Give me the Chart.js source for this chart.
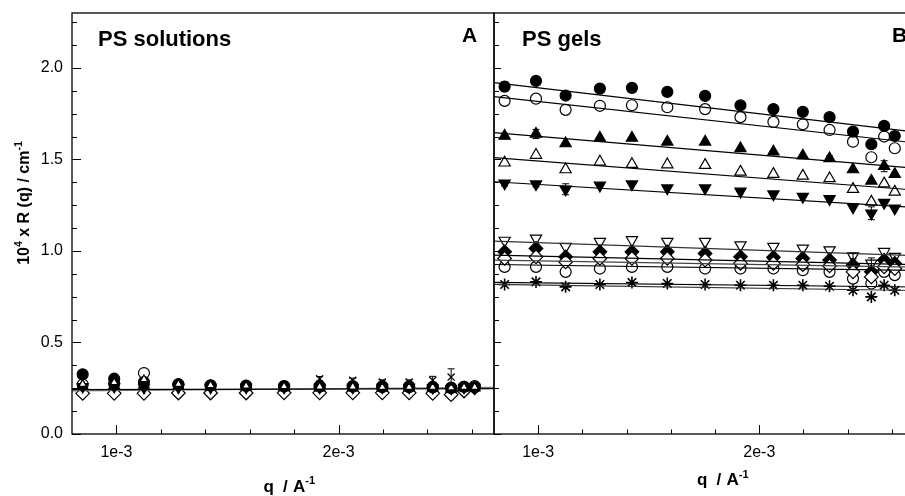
<!DOCTYPE html>
<html>
<head>
<meta charset="utf-8">
<script src="https://cdn.jsdelivr.net/npm/chart.js@4.4.1/dist/chart.umd.min.js"></script>
<style>
html,body{margin:0;padding:0;background:#fff;overflow:hidden;width:905px;height:496px;}
canvas{position:absolute;left:0;top:0;}
</style>
</head>
<body>
<canvas id="cA" width="905" height="496"></canvas>
<canvas id="cB" width="925" height="496"></canvas>
<script>
// ---------- data ----------
const q = [0.000848, 0.000990, 0.001124, 0.001279, 0.001424, 0.001584, 0.001755, 0.001915, 0.002064, 0.002197, 0.002318, 0.002424, 0.002507, 0.002565, 0.002613];
const qRange = [0.0008, 0.0027];
const yRange = [0, 2.3];
const xTickValues = [0.001, 0.002];
const xTickLabels = ['1e-3', '2e-3'];
const xMinorValues = [0.0012, 0.0014, 0.0016, 0.0018, 0.0022, 0.0024, 0.0026];
const yTickValues = [0, 0.5, 1.0, 1.5, 2.0];
const yTickLabels = ['0.0', '0.5', '1.0', '1.5', '2.0'];
const yMinorValues = [0.125, 0.25, 0.375, 0.625, 0.75, 0.875, 1.125, 1.25, 1.375, 1.625, 1.75, 1.875, 2.125, 2.25];

// Panel A: PS solutions
const solFilledCircle = [0.326, 0.302, 0.284, 0.272, 0.266, 0.264, 0.262, 0.262, 0.262, 0.260, 0.260, 0.258, 0.254, 0.258, 0.256];
const solOpenCircle   = [0.270, 0.275, 0.333, 0.270, 0.265, 0.262, 0.260, 0.258, 0.258, 0.256, 0.256, 0.254, 0.250, 0.258, 0.262];
const solFilledUp     = [0.262, 0.265, 0.268, 0.262, 0.258, 0.258, 0.254, 0.252, 0.252, 0.252, 0.252, 0.252, 0.246, 0.252, 0.252];
const solOpenUp       = [0.272, 0.282, 0.298, 0.272, 0.266, 0.263, 0.260, 0.258, 0.258, 0.256, 0.256, 0.256, 0.253, 0.256, 0.256];
const solFilledDown   = [0.258, 0.258, 0.252, 0.254, 0.254, 0.254, 0.254, 0.254, 0.254, 0.254, 0.254, 0.252, 0.248, 0.254, 0.254];
const solOpenDiamond  = [0.222, 0.222, 0.222, 0.224, 0.224, 0.224, 0.225, 0.225, 0.225, 0.225, 0.225, 0.222, 0.215, 0.235, 0.252];
const solCross        = [null, null, null, null, null, null, null, 0.302, 0.293, 0.284, 0.284, 0.293, 0.311, null, null];
const solCrossErr     = [0, 0, 0, 0, 0, 0, 0, 0.012, 0.012, 0.012, 0.012, 0.022, 0.045, 0, 0];
const solFitBlack = [0.242, 0.248];
const solFitGray  = [0.236, 0.255];

// Panel B: PS gels
const gelFilledCircle  = [1.898, 1.929, 1.849, 1.887, 1.891, 1.869, 1.847, 1.796, 1.775, 1.760, 1.731, 1.652, 1.583, 1.683, 1.628];
const gelOpenCircle    = [1.820, 1.832, 1.771, 1.793, 1.796, 1.785, 1.775, 1.731, 1.705, 1.692, 1.661, 1.597, 1.512, 1.625, 1.561];
const gelFilledUp      = [1.628, 1.639, 1.587, 1.617, 1.617, 1.596, 1.596, 1.560, 1.542, 1.520, 1.505, 1.445, 1.383, 1.463, 1.420];
const gelOpenUp        = [1.482, 1.524, 1.445, 1.487, 1.474, 1.472, 1.469, 1.432, 1.420, 1.410, 1.396, 1.338, 1.268, 1.368, 1.323];
const gelFilledDown    = [1.370, 1.365, 1.337, 1.358, 1.365, 1.343, 1.343, 1.325, 1.310, 1.297, 1.284, 1.239, 1.206, 1.264, 1.233];
const gelOpenDown      = [1.057, 1.069, 1.024, 1.051, 1.060, 1.051, 1.051, 1.032, 1.024, 1.014, 1.005, 0.972, 0.932, 0.996, 0.969];
const gelFilledDiamond = [0.995, 1.014, 0.968, 0.995, 0.995, 0.995, 0.986, 0.968, 0.965, 0.959, 0.950, 0.922, 0.886, 0.950, 0.932];
const gelOpenDiamond   = [0.959, 0.968, 0.940, 0.959, 0.959, 0.959, 0.950, 0.932, 0.932, 0.925, 0.918, 0.886, 0.858, 0.913, 0.904];
const gelOpenHex       = [0.913, 0.913, 0.886, 0.904, 0.913, 0.913, 0.904, 0.904, 0.904, 0.895, 0.886, 0.849, 0.822, 0.886, 0.868];
const gelStar          = [0.817, 0.831, 0.804, 0.817, 0.828, 0.822, 0.817, 0.813, 0.813, 0.813, 0.807, 0.785, 0.749, 0.813, 0.785];
const gelFilledCircleErr = [0.025, 0, 0, 0, 0, 0, 0, 0, 0, 0, 0, 0, 0, 0, 0];
const gelFilledUpErr     = [0.015, 0.025, 0, 0, 0, 0, 0, 0, 0, 0, 0.015, 0, 0, 0.03, 0];
const gelFilledDownErr   = [0.015, 0.015, 0.03, 0, 0, 0, 0, 0, 0, 0, 0, 0, 0.035, 0, 0];
const gelOpenDownErr     = [0, 0, 0, 0, 0, 0, 0, 0, 0, 0, 0, 0.015, 0.03, 0, 0];
// fitted lines, values at q = 0.8e-3 and 2.7e-3
const gelFits = [
  [1.920, 1.651], [1.843, 1.591], [1.646, 1.453], [1.510, 1.333], [1.378, 1.238],
  [1.054, 0.975], [0.977, 0.925], [0.950, 0.912], [0.926, 0.894], [0.828, 0.803], [0.817, 0.784]
];
const gelFitColors = ['#000', '#000', '#000', '#000', '#000', '#333', '#000', '#444', '#000', '#000', '#333'];

// ---------- helpers ----------
Chart.defaults.font.family = "'Liberation Sans', Arial, sans-serif";
Chart.defaults.color = '#000';

function pts(vals) {
  const out = [];
  vals.forEach((v, i) => { if (v !== null) out.push({x: q[i], y: v}); });
  return out;
}
function mk(vals, style, filled, opt) {
  opt = opt || {};
  return {
    data: pts(vals),
    showLine: false,
    pointStyle: style,
    pointRotation: opt.rot || 0,
    pointRadius: opt.r || 5.5,
    pointBorderWidth: opt.bw || 1.2,
    pointBorderColor: '#000',
    pointBackgroundColor: filled ? '#000' : '#fff',
    errs: opt.errs || null,
    errSrc: vals
  };
}
function fit(ends, color) {
  return {
    data: [{x: qRange[0], y: ends[0]}, {x: qRange[1], y: ends[1]}],
    showLine: true, pointRadius: 0, borderColor: color || '#000', borderWidth: 1.2, fill: false
  };
}

const errPlugin = {
  id: 'errbars',
  afterDatasetsDraw(chart) {
    const ctx = chart.ctx, xs = chart.scales.x, ys = chart.scales.y;
    ctx.save();
    ctx.strokeStyle = '#000'; ctx.lineWidth = 1;
    chart.data.datasets.forEach(ds => {
      if (!ds.errs) return;
      ds.errSrc.forEach((v, i) => {
        const e = ds.errs[i];
        if (v === null || !e) return;
        const px = xs.getPixelForValue(q[i]);
        const y1 = ys.getPixelForValue(v + e), y2 = ys.getPixelForValue(v - e);
        ctx.beginPath();
        ctx.moveTo(px, y1); ctx.lineTo(px, y2);
        ctx.moveTo(px - 3.5, y1); ctx.lineTo(px + 3.5, y1);
        ctx.moveTo(px - 3.5, y2); ctx.lineTo(px + 3.5, y2);
        ctx.stroke();
      });
    });
    ctx.restore();
  }
};

function drawSupText(ctx, parts, x, y) {
  let cx = x;
  parts.forEach(p => {
    ctx.font = 'bold ' + p[1] + "px 'Liberation Sans', Arial, sans-serif";
    ctx.fillText(p[0], cx, y - p[2]);
    cx += ctx.measureText(p[0]).width;
  });
  return cx - x;
}

const framePlugin = {
  id: 'frame',
  afterDraw(chart, args, o) {
    const ctx = chart.ctx, a = chart.chartArea, xs = chart.scales.x, ys = chart.scales.y;
    ctx.save();
    ctx.strokeStyle = '#000';
    ctx.lineWidth = 1;
    ctx.beginPath();
    xTickValues.forEach(v => { const p = Math.round(xs.getPixelForValue(v)) + 0.5; ctx.moveTo(p, a.bottom); ctx.lineTo(p, a.bottom - 9); });
    xMinorValues.forEach(v => { const p = Math.round(xs.getPixelForValue(v)) + 0.5; ctx.moveTo(p, a.bottom); ctx.lineTo(p, a.bottom - 4.5); });
    yTickValues.forEach(v => { const p = Math.round(ys.getPixelForValue(v)) + 0.5; ctx.moveTo(a.left, p); ctx.lineTo(a.left + o.yMajor, p); });
    yMinorValues.forEach(v => { const p = Math.round(ys.getPixelForValue(v)) + 0.5; ctx.moveTo(a.left, p); ctx.lineTo(a.left + o.yMinor, p); });
    ctx.stroke();
    ctx.lineWidth = 1.3;
    ctx.strokeRect(a.left, a.top, a.right - a.left, a.bottom - a.top);
    ctx.fillStyle = '#000';
    ctx.textBaseline = 'alphabetic';
    ctx.textAlign = 'left';
    ctx.font = "bold 22px 'Liberation Sans', Arial, sans-serif";
    ctx.fillText(o.title, o.titleX, 46);
    ctx.font = "bold 21px 'Liberation Sans', Arial, sans-serif";
    ctx.fillText(o.letter, o.letterX, 41.5);
    drawSupText(ctx, [['q', 17, 0]], o.xtX, o.xtY);
    drawSupText(ctx, [['/', 17, 0]], o.xtX + 19.5, o.xtY);
    drawSupText(ctx, [['A', 17, 0], ['-1', 11, 7.5]], o.xtX + 29.5, o.xtY);
    if (o.ytitle) {
      ctx.save();
      ctx.translate(28.5, 203);
      ctx.rotate(-Math.PI / 2);
      const parts = [['10', 16, 0], ['4', 10.5, 7], [' x R (q) / cm', 16, 0], ['-1', 10.5, 7]];
      let w = 0;
      parts.forEach(p => { ctx.font = 'bold ' + p[1] + "px 'Liberation Sans', Arial, sans-serif"; w += ctx.measureText(p[0]).width; });
      drawSupText(ctx, parts, -w / 2, 0);
      ctx.restore();
    }
    ctx.restore();
  }
};

function noPad(s) { s.paddingTop = 0; s.paddingBottom = 0; s.paddingLeft = 0; s.paddingRight = 0; }

function scales(showY, yWidth) {
  return {
    x: {
      type: 'linear', position: 'bottom', min: qRange[0], max: qRange[1],
      afterFit: s => { s.height = 62; noPad(s); },
      afterBuildTicks: s => { s.ticks = xTickValues.map(v => ({value: v})); },
      ticks: {
        autoSkip: false, maxRotation: 0, padding: 9,
        font: {size: 16}, color: '#000',
        callback: (v) => { const i = xTickValues.indexOf(v); return i >= 0 ? xTickLabels[i] : ''; }
      },
      grid: {display: false, drawTicks: false}, border: {display: false}
    },
    y: {
      type: 'linear', position: 'left', min: yRange[0], max: yRange[1],
      afterFit: s => { s.width = yWidth; noPad(s); },
      afterBuildTicks: s => { s.ticks = yTickValues.map(v => ({value: v})); },
      ticks: {
        display: showY, autoSkip: false, padding: 9,
        font: {size: 16}, color: '#000',
        callback: (v) => { const i = yTickValues.indexOf(v); return i >= 0 ? yTickLabels[i] : ''; }
      },
      grid: {display: false, drawTicks: false}, border: {display: false}
    }
  };
}

// ---------- Panel A ----------
new Chart(document.getElementById('cA'), {
  type: 'scatter',
  data: {
    datasets: [
      mk(solCross, 'crossRot', true, {r: 5, bw: 1.3, errs: solCrossErr}),
      mk(solOpenUp, 'triangle', false, {r: 4.5}),
      mk(solFilledDown, 'triangle', true, {rot: 180, r: 6.2}),
      mk(solFilledUp, 'triangle', true, {r: 6.2}),
      mk(solFilledCircle, 'circle', true, {r: 5.5}),
      mk(solOpenCircle, 'circle', false, {r: 5.5}),
      fit(solFitBlack, '#000'),
      fit(solFitGray, '#777'),
      mk(solOpenDiamond, 'rectRot', false, {r: 6.8})
    ]
  },
  options: {
    responsive: false, animation: false, devicePixelRatio: 1,
    layout: {padding: {top: 13, right: 411, left: 0, bottom: 0}},
    plugins: {
      legend: {display: false}, tooltip: {enabled: false},
      frame: {title: 'PS solutions', titleX: 98, letter: 'A', letterX: 462, xtX: 263.5, xtY: 491.5, ytitle: true, yMajor: 9, yMinor: 5}
    },
    scales: scales(true, 72)
  },
  plugins: [framePlugin, errPlugin]
});

// ---------- Panel B ----------
const fitSets = gelFits.map((f, i) => fit(f, gelFitColors[i]));
new Chart(document.getElementById('cB'), {
  type: 'scatter',
  data: {
    datasets: fitSets.concat([
      mk(gelOpenDiamond, 'rectRot', false, {r: 6.8}),
      mk(gelOpenHex, 'circle', false, {r: 5.5}),
      mk(gelFilledDiamond, 'rectRot', true, {r: 6.8}),
      mk(gelOpenDown, 'triangle', false, {rot: 180, r: 6.5, errs: gelOpenDownErr}),
      mk(gelStar, 'star', true, {r: 6, bw: 1.6}),
      mk(gelFilledCircle, 'circle', true, {r: 5.5, errs: gelFilledCircleErr}),
      mk(gelOpenCircle, 'circle', false, {r: 5.5}),
      mk(gelFilledUp, 'triangle', true, {r: 6.5, errs: gelFilledUpErr}),
      mk(gelOpenUp, 'triangle', false, {r: 6.5}),
      mk(gelFilledDown, 'triangle', true, {rot: 180, r: 6.5, errs: gelFilledDownErr})
    ])
  },
  options: {
    responsive: false, animation: false, devicePixelRatio: 1,
    layout: {padding: {top: 13, right: 11, left: 0, bottom: 0}},
    plugins: {
      legend: {display: false}, tooltip: {enabled: false},
      frame: {title: 'PS gels', titleX: 522, letter: 'B', letterX: 892, xtX: 697, xtY: 485, ytitle: false, yMajor: 7, yMinor: 5}
    },
    scales: scales(false, 494)
  },
  plugins: [framePlugin, errPlugin]
});
</script>
</body>
</html>
